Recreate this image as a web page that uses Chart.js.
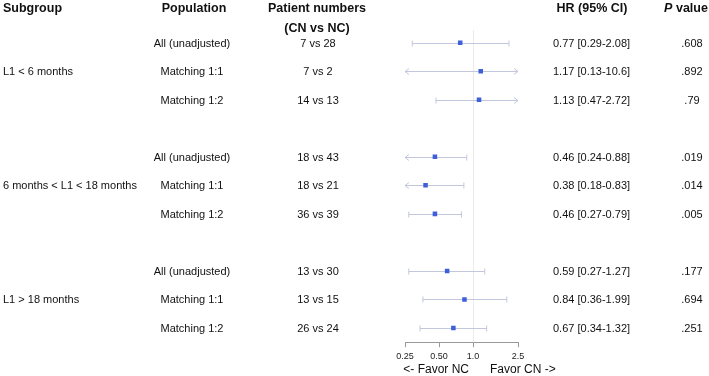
<!DOCTYPE html>
<html>
<head>
<meta charset="utf-8">
<script src="https://cdn.jsdelivr.net/npm/chart.js@4.4.1/dist/chart.umd.min.js"></script>
<style>
  html, body { margin: 0; padding: 0; background: #fff; }
  #wrap { width: 709px; height: 376px; position: relative; }
</style>
</head>
<body>
<div id="wrap"><canvas id="c"></canvas></div>
<script>
// rows of the forest plot (row index on the y axis, gaps at 4 and 8)
const rows = [1, 2, 3, 5, 6, 7, 9, 10, 11];
const populations = ["All (unadjusted)", "Matching 1:1", "Matching 1:2",
  "All (unadjusted)", "Matching 1:1", "Matching 1:2",
  "All (unadjusted)", "Matching 1:1", "Matching 1:2"];
const patientNumbers = ["7 vs 28", "7 vs 2", "14 vs 13", "18 vs 43", "18 vs 21", "36 vs 39",
  "13 vs 30", "13 vs 15", "26 vs 24"];
const hr = [0.77, 1.17, 1.13, 0.46, 0.38, 0.46, 0.59, 0.84, 0.67];
const ciLow = [0.29, 0.13, 0.47, 0.24, 0.18, 0.27, 0.27, 0.36, 0.34];
const ciHigh = [2.08, 10.6, 2.72, 0.88, 0.83, 0.79, 1.27, 1.99, 1.32];
const hrText = ["0.77 [0.29-2.08]", "1.17 [0.13-10.6]", "1.13 [0.47-2.72]",
  "0.46 [0.24-0.88]", "0.38 [0.18-0.83]", "0.46 [0.27-0.79]",
  "0.59 [0.27-1.27]", "0.84 [0.36-1.99]", "0.67 [0.34-1.32]"];
const pValues = [".608", ".892", ".79", ".019", ".014", ".005", ".177", ".694", ".251"];
const subgroups = [
  { row: 2, label: "L1 < 6 months" },
  { row: 6, label: "6 months < L1 < 18 months" },
  { row: 10, label: "L1 > 18 months" },
];
const xTicks = [0.25, 0.5, 1, 2.5];
const xTickLabels = ["0.25", "0.50", "1.0", "2.5"];

const FONT = "'Liberation Sans', Arial, sans-serif";
const CI_COLOR = "#c3c7de";
const MARK_COLOR = "#3d5fd8";

const forestPlugin = {
  id: "forest",
  beforeDatasetsDraw(chart) {
    const { ctx, chartArea, scales: { x, y } } = chart;
    ctx.save();
    // reference line at HR = 1
    const x1 = Math.round(x.getPixelForValue(1)) + 0.5;
    ctx.strokeStyle = "#ebebeb";
    ctx.lineWidth = 1;
    ctx.beginPath();
    ctx.moveTo(x1, 30);
    ctx.lineTo(x1, chartArea.bottom);
    ctx.stroke();

    // confidence intervals, clipped to the axis with arrows
    ctx.strokeStyle = CI_COLOR;
    rows.forEach((r, i) => {
      const py = Math.round(y.getPixelForValue(r)) + 0.5;
      const lo = Math.max(ciLow[i], x.min), hi = Math.min(ciHigh[i], x.max);
      const pl = x.getPixelForValue(lo), ph = x.getPixelForValue(hi);
      ctx.beginPath();
      ctx.moveTo(pl, py);
      ctx.lineTo(ph, py);
      ctx.stroke();
      ctx.beginPath();
      if (ciLow[i] < x.min) {
        ctx.moveTo(pl + 4, py - 3); ctx.lineTo(pl, py); ctx.lineTo(pl + 4, py + 3);
      } else {
        ctx.moveTo(pl, py - 3); ctx.lineTo(pl, py + 3);
      }
      if (ciHigh[i] > x.max) {
        ctx.moveTo(ph - 4, py - 3); ctx.lineTo(ph, py); ctx.lineTo(ph - 4, py + 3);
      } else {
        ctx.moveTo(ph, py - 3); ctx.lineTo(ph, py + 3);
      }
      ctx.stroke();
    });
    ctx.restore();
  },
  afterDraw(chart) {
    const { ctx, scales: { y } } = chart;
    ctx.save();
    ctx.fillStyle = "#111";
    ctx.textBaseline = "middle";

    // headers
    const HB = "bold 12.5px " + FONT;
    ctx.font = HB;
    ctx.textAlign = "left";
    ctx.fillText("Subgroup", 3, 9);
    ctx.textAlign = "center";
    ctx.fillText("Population", 194, 9);
    ctx.fillText("Patient numbers", 317, 9);
    ctx.fillText("(CN vs NC)", 317, 29);
    ctx.fillText("HR (95% CI)", 592, 9);
    ctx.font = "italic " + HB;
    const pw = ctx.measureText("P").width;
    ctx.font = HB;
    const vw = ctx.measureText(" value").width;
    ctx.textAlign = "left";
    const px0 = 686 - (pw + vw) / 2;
    ctx.font = "italic " + HB;
    ctx.fillText("P", px0, 9);
    ctx.font = HB;
    ctx.fillText(" value", px0 + pw, 9);

    // body
    ctx.font = "11px " + FONT;
    subgroups.forEach(s => {
      ctx.textAlign = "left";
      ctx.fillText(s.label, 3, y.getPixelForValue(s.row) + 1);
    });
    rows.forEach((r, i) => {
      const py = y.getPixelForValue(r) + 1;
      ctx.textAlign = "center";
      ctx.fillText(populations[i], 192, py);
      ctx.fillText(patientNumbers[i], 318, py);
      ctx.textAlign = "left";
      ctx.fillText(hrText[i], 553, py);
      ctx.textAlign = "center";
      ctx.fillText(pValues[i], 692, py);
    });

    // favour labels
    ctx.font = "12px " + FONT;
    ctx.textAlign = "right";
    ctx.fillText("<- Favor NC", 469, 370);
    ctx.textAlign = "left";
    ctx.fillText("Favor CN ->", 490, 370);
    ctx.restore();
  },
};

new Chart(document.getElementById("c"), {
  type: "scatter",
  data: {
    datasets: [{
      data: rows.map((r, i) => ({ x: hr[i], y: r })),
      pointStyle: "rect",
      pointRadius: 3.2,
      pointHoverRadius: 3.2,
      backgroundColor: MARK_COLOR,
      borderColor: MARK_COLOR,
      borderWidth: 0,
    }],
  },
  options: {
    responsive: true,
    maintainAspectRatio: false,
    animation: false,
    layout: { padding: { left: 405, right: 191, top: 28.5, bottom: 10 } },
    plugins: { legend: { display: false }, tooltip: { enabled: false } },
    scales: {
      x: {
        type: "logarithmic",
        min: 0.25,
        max: 2.5,
        afterBuildTicks(axis) {
          axis.ticks = xTicks.map(v => ({ value: v }));
        },
        grid: { drawOnChartArea: false, drawTicks: true, tickLength: 5, color: "#999" },
        border: { display: true, color: "#999" },
        ticks: {
          autoSkip: false,
          maxRotation: 0,
          padding: 4,
          color: "#222",
          font: { family: FONT, size: 9 },
          callback(value) {
            const k = xTicks.indexOf(value);
            return k >= 0 ? xTickLabels[k] : "";
          },
        },
      },
      y: {
        display: false,
        reverse: true,
        min: 0.5,
        max: 11.5,
      },
    },
  },
  plugins: [forestPlugin],
});
</script>
</body>
</html>
